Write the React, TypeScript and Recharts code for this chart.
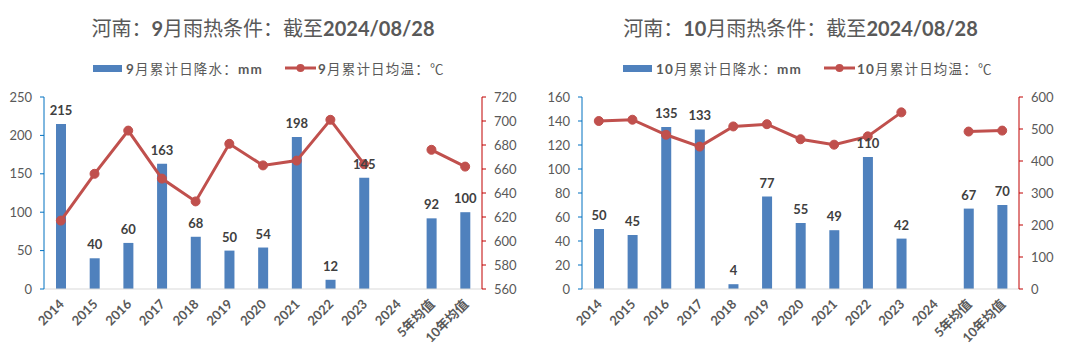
import React from "react";
import {
  ComposedChart,
  Bar,
  Line,
  XAxis,
  YAxis,
  LabelList,
} from "recharts";

const years = ["2014", "2015", "2016", "2017", "2018", "2019", "2020", "2021", "2022", "2023", "2024", "5年均值", "10年均值"];

const sepRain = [215, 40, 60, 163, 68, 50, 54, 198, 12, 145, null, 92, 100];
const sepTemp = [617, 656, 692, 652, 633, 681, 663, 667, 701, 664, null, 676, 662];
const sepRainTicks = [0, 50, 100, 150, 200, 250];
const sepTempTicks = [560, 580, 600, 620, 640, 660, 680, 700, 720];

const octRain = [50, 45, 135, 133, 4, 77, 55, 49, 110, 42, null, 67, 70];
const octTemp = [525, 529, 482, 445, 508, 515, 468, 451, 477, 552, null, 492, 495];
const octRainTicks = [0, 20, 40, 60, 80, 100, 120, 140, 160];
const octTempTicks = [0, 100, 200, 300, 400, 500, 600];

const BLUE = "#4F81BD";
const RED = "#C0504D";
const TEXT = "#595959";
const NUM_FONT = "Lato, 'Noto Sans CJK SC', sans-serif";

// bold latin runs, plain CJK runs, like the original title
const mixed = (s: string) =>
  s.split(/([\x00-\x7F]+)/).filter(Boolean).map((part, i) => (
    <span key={i} style={{ fontWeight: /[\x00-\x7F]/.test(part) ? 700 : 400 }}>
      {part}
    </span>
  ));

const XTick = (props: any) => {
  const { x, y, payload } = props;
  const px = x + 4;
  const py = y + 16;
  return (
    <text
      x={px}
      y={py}
      transform={`rotate(-45 ${px} ${py})`}
      textAnchor="end"
      fill={TEXT}
      fontSize={13}
      fontWeight={700}
      fontFamily={NUM_FONT}
    >
      {payload.value}
    </text>
  );
};

interface PanelProps {
  left: number;
  title: string;
  rainName: string;
  tempName: string;
  rain: (number | null)[];
  temp: (number | null)[];
  rainTicks: number[];
  tempTicks: number[];
  leftW: number;
  rightW: number;
  legendLeft: number;
}

const Panel = ({
  left,
  title,
  rainName,
  tempName,
  rain,
  temp,
  rainTicks,
  tempTicks,
  leftW,
  rightW,
  legendLeft,
}: PanelProps) => {
  const data = years.map((year, i) => ({ year, rain: rain[i], temp: temp[i] }));
  return (
    <div style={{ position: "absolute", left, top: 0, width: 540, height: 363 }}>
      <div
        style={{
          position: "absolute",
          top: 13,
          left: leftW,
          width: 540 - leftW - rightW,
          textAlign: "center",
          fontSize: 20,
          color: TEXT,
          fontFamily: NUM_FONT,
          whiteSpace: "nowrap",
        }}
      >
        {mixed(title)}
      </div>
      <div
        style={{
          position: "absolute",
          top: 58,
          left: legendLeft,
          display: "flex",
          alignItems: "center",
          fontSize: 13.5,
          letterSpacing: 1.2,
          color: TEXT,
          fontFamily: NUM_FONT,
          whiteSpace: "nowrap",
        }}
      >
        <span style={{ width: 29, height: 7, background: BLUE, marginRight: 4 }} />
        <span>{mixed(rainName)}</span>
        <svg width={31} height={10} style={{ marginLeft: 22, marginRight: 2 }}>
          <line x1={0} y1={5} x2={31} y2={5} stroke={RED} strokeWidth={3} />
          <circle cx={15.5} cy={5} r={4} fill={RED} />
        </svg>
        <span>{mixed(tempName)}</span>
      </div>
      <ComposedChart
        width={540}
        height={363}
        data={data}
        margin={{ top: 97, right: 0, bottom: 0, left: 0 }}
      >
        <XAxis
          dataKey="year"
          interval={0}
          height={74}
          tickLine={false}
          tickSize={0}
          tickMargin={0}
          axisLine={{ stroke: "#D9D9D9" }}
          tick={<XTick />}
        />
        <YAxis
          yAxisId="rain"
          width={leftW}
          domain={[rainTicks[0], rainTicks[rainTicks.length - 1]]}
          ticks={rainTicks}
          interval={0}
          tickSize={4}
          tickMargin={8}
          axisLine={{ stroke: "#0070C0" }}
          tickLine={{ stroke: "#0070C0" }}
          tick={{ fill: TEXT, fontSize: 13, fontFamily: NUM_FONT }}
        />
        <YAxis
          yAxisId="temp"
          orientation="right"
          width={rightW}
          domain={[tempTicks[0], tempTicks[tempTicks.length - 1]]}
          ticks={tempTicks}
          interval={0}
          tickSize={4}
          tickMargin={8}
          axisLine={{ stroke: "#C00000" }}
          tickLine={{ stroke: "#C00000" }}
          tick={{ fill: TEXT, fontSize: 13, fontFamily: NUM_FONT }}
        />
        <Bar yAxisId="rain" dataKey="rain" fill={BLUE} barSize={10} isAnimationActive={false}>
          <LabelList
            dataKey="rain"
            position="top"
            offset={9}
            fill="#404040"
            fontSize={13}
            fontWeight={700}
            fontFamily={NUM_FONT}
          />
        </Bar>
        <Line
          yAxisId="temp"
          dataKey="temp"
          stroke={RED}
          strokeWidth={3}
          dot={{ r: 4.5, fill: RED, stroke: RED, strokeWidth: 1 }}
          connectNulls={false}
          isAnimationActive={false}
        />
      </ComposedChart>
    </div>
  );
};

export default function App() {
  return (
    <div style={{ position: "fixed", left: 0, top: 0, width: 1080, height: 363, background: "#fff" }}>
      <Panel
        left={0}
        title="河南：9月雨热条件：截至2024/08/28"
        rainName="9月累计日降水：mm"
        tempName="9月累计日均温：℃"
        rain={sepRain}
        temp={sepTemp}
        rainTicks={sepRainTicks}
        tempTicks={sepTempTicks}
        leftW={44}
        rightW={58}
        legendLeft={93}
      />
      <Panel
        left={540}
        title="河南：10月雨热条件：截至2024/08/28"
        rainName="10月累计日降水：mm"
        tempName="10月累计日均温：℃"
        rain={octRain}
        temp={octTemp}
        rainTicks={octRainTicks}
        tempTicks={octTempTicks}
        leftW={42}
        rightW={61}
        legendLeft={83}
      />
    </div>
  );
}
